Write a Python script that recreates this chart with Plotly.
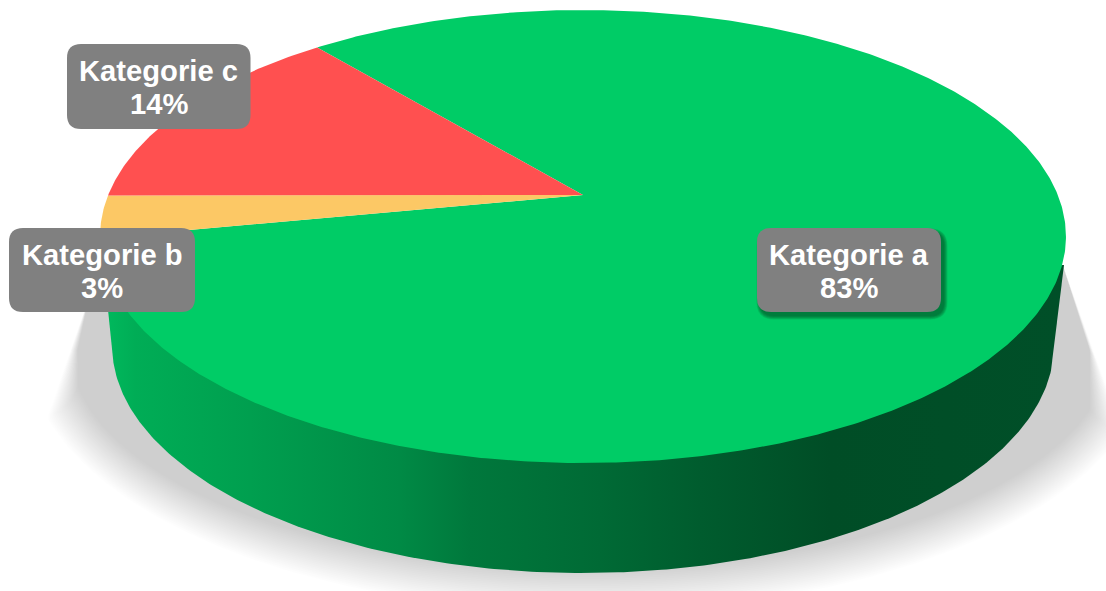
import numpy as np
import plotly.graph_objects as go

# Slice data, in drawing order (clockwise from the start angle)
categories = ["Kategorie a", "Kategorie b", "Kategorie c"]
values = [83, 3, 14]
slice_colors = ["#00cc66", "#fcc865", "#ff5050"]
start_angle_deg = 129.7

# Projection of the pie's top disc onto the page
APEX = (583.0, 195.0)
TILT = 0.1832
SCALE_X, SCALE_Y = 474.8, 218.9

# Lower rim of the extruded body
BASE_CX, BASE_CY, BASE_RX, BASE_RY = 583.0, 345.0, 471.0, 228.0

side_stops_x = [108, 135, 250, 400, 470, 600, 700, 830, 1063]
side_stops_rgb = [
    "#00b85c", "#00ad56", "#009f4f", "#008a45", "#00783c",
    "#006a35", "#005c2e", "#004d26", "#004f28",
]


def disc(theta):
    u, v = np.cos(theta), np.sin(theta)
    w = 1 + TILT * v
    return APEX[0] + SCALE_X * u / w, APEX[1] - SCALE_Y * v / w


def wedge(a0, a1):
    t = np.linspace(a0, a1, max(8, int(abs(a1 - a0) * 120)))
    x, y = disc(t)
    return np.r_[APEX[0], x, APEX[0]], np.r_[APEX[1], y, APEX[1]]


def polygon(x, y, color, **kw):
    return go.Scatter(x=x, y=y, mode="lines", fill="toself", fillcolor=color,
                      line=dict(width=0), hoverinfo="skip", showlegend=False, **kw)


fig = go.Figure()

# Soft ground shadow: nested translucent layers inside the cast wedge,
# whose edges get softer further from the body
LAYERS = 24
for i in range(LAYERS):
    f = i / (LAYERS - 1)
    rx, ry = 562 - 42 * f, 262 - 42 * f
    t = np.linspace(0, np.pi, 200)
    y = 350 + ry * np.sin(t)
    x = 590 + rx * np.cos(t)
    right = 1063 + (y - 265) * 43 / 120 - f * np.maximum(y - 340, 0) * 0.35
    left = 83 - (y - 313) * 33 / 97 + f * np.maximum(y - 330, 0) * 0.35
    x = np.minimum(np.maximum(x, left), right)
    fig.add_trace(polygon(np.r_[1063, x, 88], np.r_[265, y, 300], "rgba(0,0,0,0.0093)"))

# Extruded side wall with its horizontal shading
t = np.linspace(np.arcsin(18 / BASE_RY), np.pi - np.arcsin(18 / BASE_RY), 260)
side_x = np.r_[1064, BASE_CX + BASE_RX * np.cos(t), 107]
side_y = np.r_[265, BASE_CY + BASE_RY * np.sin(t), 300]
span = side_stops_x[-1] - side_stops_x[0]
scale = [[(s - side_stops_x[0]) / span, c] for s, c in zip(side_stops_x, side_stops_rgb)]
fig.add_trace(go.Scatter(
    x=side_x, y=side_y, mode="lines", fill="toself", line=dict(width=0),
    fillgradient=dict(type="horizontal", colorscale=scale,
                      start=side_stops_x[0], stop=side_stops_x[-1]),
    hoverinfo="skip", showlegend=False,
))

# Top face: one wedge per value, walking clockwise
angle = np.deg2rad(start_angle_deg)
for value, color in zip(values, slice_colors):
    sweep = 2 * np.pi * value / sum(values)
    wx, wy = wedge(angle, angle - sweep)
    fig.add_trace(polygon(wx, wy, color))
    angle -= sweep


def round_rect(x0, y0, x1, y1, r):
    return (f"M{x0 + r},{y0} L{x1 - r},{y0} Q{x1},{y0} {x1},{y0 + r} "
            f"L{x1},{y1 - r} Q{x1},{y1} {x1 - r},{y1} L{x0 + r},{y1} "
            f"Q{x0},{y1} {x0},{y1 - r} L{x0},{y0 + r} Q{x0},{y0} {x0 + r},{y0} Z")


label_boxes = {
    "Kategorie a": (757, 228, 941, 312),
    "Kategorie b": (9, 228, 195, 312),
    "Kategorie c": (67, 44, 250.5, 129),
}

shapes = []
# Blurred drop shadow under the largest slice's label
x0, y0, x1, y1 = label_boxes["Kategorie a"]
for spread in np.arange(9, -1, -1):
    s = spread * 0.8
    shapes.append(dict(
        type="path", layer="above", line=dict(width=0), fillcolor="rgba(0,60,30,0.07)",
        xref="x", yref="y",
        path=round_rect(x0 + 3 - s / 2, y0 + 4 - s / 2,
                        x1 + 3 + s / 2, y1 + 4 + s / 2, 14 + s / 2),
    ))

annotations = []
for name, value in zip(categories, values):
    x0, y0, x1, y1 = label_boxes[name]
    shapes.append(dict(type="path", layer="above", line=dict(width=0), fillcolor="#808080",
                       xref="x", yref="y", path=round_rect(x0, y0, x1, y1, 14)))
    cx = (x0 + x1) / 2
    for text, cy in ((name, (y0 + y1) / 2 - 15.5), (f"{value}%", (y0 + y1) / 2 + 17.5)):
        annotations.append(dict(
            x=cx, y=cy, text=text, showarrow=False, xanchor="center", yanchor="middle",
            font=dict(family="Liberation Sans", size=29.2, color="white", weight="bold"),
        ))

fig.update_layout(
    width=1106, height=591, margin=dict(l=0, r=0, t=0, b=0),
    paper_bgcolor="white", plot_bgcolor="white", showlegend=False,
    xaxis=dict(range=[0, 1106], visible=False, fixedrange=True),
    yaxis=dict(range=[591, 0], visible=False, fixedrange=True),
    shapes=shapes, annotations=annotations,
)

fig.write_html("out.html", config=dict(displayModeBar=False))
